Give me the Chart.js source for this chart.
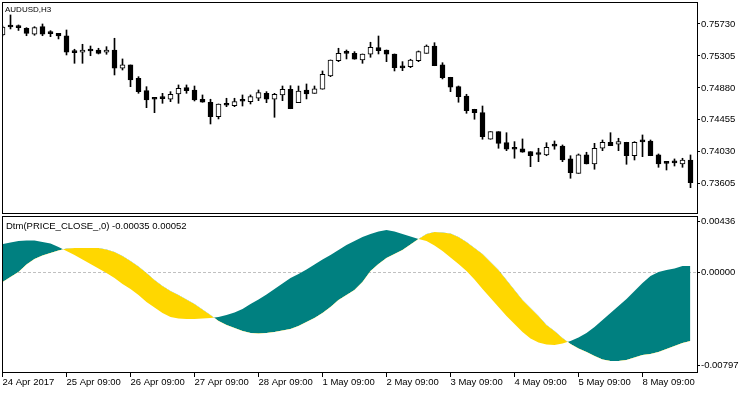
<!DOCTYPE html>
<html>
<head>
<meta charset="utf-8">
<title>AUDUSD,H3 - Dtm</title>
<script src="https://cdn.jsdelivr.net/npm/chart.js@4.4.1/dist/chart.umd.min.js"></script>
<style>
    html, body { margin: 0; padding: 0; background: #fff; }
    #wrap { position: relative; width: 750px; height: 394px; overflow: hidden; font-family: "Liberation Sans", Arial, sans-serif; }
    #wrap canvas { position: absolute; left: 0; }
    .frame { position: absolute; border: 1px solid #000; pointer-events: none; }
    .caption { position: absolute; color: #000; white-space: nowrap; line-height: 10px; }
</style>
</head>
<body>
<div id="wrap">
    <canvas id="price-chart" width="750" height="215" style="top:0"></canvas>
    <canvas id="dtm-chart" width="750" height="179" style="top:215px"></canvas>
    <div class="frame" style="left:2px;top:2px;width:694px;height:210px"></div>
    <div class="frame" style="left:2px;top:216px;width:694px;height:155px"></div>
    <div class="caption" style="left:5px;top:5px;font-size:8px">AUDUSD,H3</div>
    <div class="caption" style="left:6px;top:220px;font-size:9.5px;line-height:11px">Dtm(PRICE_CLOSE_,0) -0.00035 0.00052</div>
</div>
<script>
// H3 bars, 24 Apr 2017 09:00 .. 9 May 2017 03:00
const xTickBars = [0, 8, 16, 24, 32, 40, 48, 56, 64, 72, 80];
const xTickLabels = ['24 Apr 2017', '25 Apr 09:00', '26 Apr 09:00', '27 Apr 09:00', '28 Apr 09:00',
    '1 May 09:00', '2 May 09:00', '3 May 09:00', '4 May 09:00', '5 May 09:00', '8 May 09:00'];

const priceTicks = [0.73605, 0.74030, 0.74455, 0.74880, 0.75305, 0.75730];
const dtmTicks = [-0.00797, 0, 0.00436];

const openPrices = [
    0.75584, 0.75697, 0.75690, 0.75673, 0.75593, 0.75694, 0.75610, 0.75606, 0.75574, 0.75358,
    0.75354, 0.75378, 0.75384, 0.75354, 0.75384, 0.75141, 0.75185, 0.75008, 0.74843, 0.74735,
    0.74746, 0.74729, 0.74799, 0.74883, 0.74852, 0.74729, 0.74689, 0.74497, 0.74655, 0.74643,
    0.74709, 0.74697, 0.74742, 0.74808, 0.74729, 0.74786, 0.74862, 0.74683, 0.74852, 0.74808,
    0.74862, 0.75038, 0.75242, 0.75343, 0.75340, 0.75251, 0.75327, 0.75415, 0.75384, 0.75331,
    0.75151, 0.75162, 0.75242, 0.75340, 0.75437, 0.75185, 0.75021, 0.74896, 0.74772, 0.74596,
    0.74550, 0.74197, 0.74298, 0.74151, 0.74070, 0.74068, 0.74032, 0.74000, 0.73988, 0.74110,
    0.74107, 0.73935, 0.73744, 0.73988, 0.73868, 0.74077, 0.74157, 0.74130, 0.74157, 0.73978,
    0.74167, 0.74174, 0.73988, 0.73880, 0.73888, 0.73868, 0.73921
];
const highPrices = [
    0.75703, 0.75850, 0.75717, 0.75681, 0.75694, 0.75730, 0.75641, 0.75606, 0.75650, 0.75394,
    0.75460, 0.75437, 0.75407, 0.75428, 0.75540, 0.75265, 0.75185, 0.75029, 0.74896, 0.74742,
    0.74808, 0.74830, 0.74919, 0.74919, 0.74905, 0.74786, 0.74729, 0.74666, 0.74742, 0.74742,
    0.74786, 0.74786, 0.74852, 0.74830, 0.74808, 0.74905, 0.74909, 0.74905, 0.74932, 0.74905,
    0.75105, 0.75251, 0.75407, 0.75384, 0.75362, 0.75331, 0.75487, 0.75570, 0.75384, 0.75331,
    0.75229, 0.75261, 0.75371, 0.75451, 0.75481, 0.75215, 0.75021, 0.74905, 0.74795, 0.74596,
    0.74639, 0.74298, 0.74298, 0.74284, 0.74165, 0.74201, 0.74032, 0.74077, 0.74151, 0.74174,
    0.74121, 0.73978, 0.74001, 0.74024, 0.74143, 0.74187, 0.74284, 0.74210, 0.74157, 0.74165,
    0.74254, 0.74187, 0.74001, 0.73899, 0.73935, 0.73944, 0.73988
];
const lowPrices = [
    0.75570, 0.75664, 0.75644, 0.75574, 0.75580, 0.75574, 0.75561, 0.75531, 0.75318, 0.75207,
    0.75207, 0.75308, 0.75331, 0.75327, 0.75052, 0.75118, 0.74896, 0.74808, 0.74617, 0.74550,
    0.74675, 0.74697, 0.74675, 0.74808, 0.74706, 0.74689, 0.74400, 0.74467, 0.74630, 0.74630,
    0.74639, 0.74666, 0.74710, 0.74683, 0.74489, 0.74710, 0.74603, 0.74683, 0.74733, 0.74808,
    0.74862, 0.75029, 0.75229, 0.75265, 0.75261, 0.75207, 0.75287, 0.75331, 0.75229, 0.75105,
    0.75109, 0.75149, 0.75229, 0.75340, 0.75175, 0.74999, 0.74830, 0.74689, 0.74542, 0.74463,
    0.74197, 0.74197, 0.74077, 0.74045, 0.73944, 0.74024, 0.73832, 0.73899, 0.73978, 0.74064,
    0.73899, 0.73678, 0.73744, 0.73868, 0.73798, 0.74045, 0.74111, 0.74045, 0.73864, 0.73921,
    0.73965, 0.73978, 0.73824, 0.73788, 0.73841, 0.73824, 0.73553
];
const closePrices = [
    0.75690, 0.75690, 0.75682, 0.75606, 0.75681, 0.75593, 0.75602, 0.75570, 0.75354, 0.75350,
    0.75384, 0.75371, 0.75340, 0.75384, 0.75141, 0.75185, 0.74985, 0.74830, 0.74719, 0.74729,
    0.74738, 0.74795, 0.74875, 0.74843, 0.74719, 0.74689, 0.74497, 0.74666, 0.74649, 0.74697,
    0.74702, 0.74763, 0.74816, 0.74729, 0.74795, 0.74862, 0.74603, 0.74839, 0.74799, 0.74866,
    0.75061, 0.75251, 0.75340, 0.75338, 0.75261, 0.75331, 0.75420, 0.75375, 0.75327, 0.75149,
    0.75146, 0.75251, 0.75362, 0.75437, 0.75175, 0.75016, 0.74888, 0.74763, 0.74577, 0.74550,
    0.74231, 0.74298, 0.74143, 0.74064, 0.74064, 0.74024, 0.73978, 0.73994, 0.74090, 0.74105,
    0.73921, 0.73752, 0.73988, 0.73868, 0.74077, 0.74157, 0.74111, 0.74165, 0.73978, 0.74157,
    0.74162, 0.73978, 0.73868, 0.73875, 0.73883, 0.73921, 0.73619
];

// Dtm indicator: two buffers, filled between them
const dtmFast = [
    0.00241, 0.00254, 0.00267, 0.00271, 0.00271, 0.00258, 0.00246, 0.00216, 0.00182, 0.00147,
    0.00109, 0.00071, 0.00032, -0.00006, -0.00049, -0.00100, -0.00142, -0.00194, -0.00253, -0.00300,
    -0.00347, -0.00381, -0.00394, -0.00398, -0.00398, -0.00394, -0.00390, -0.00381, -0.00364, -0.00343,
    -0.00313, -0.00270, -0.00232, -0.00189, -0.00142, -0.00095, -0.00049, -0.00014, 0.00024, 0.00067,
    0.00109, 0.00147, 0.00190, 0.00233, 0.00267, 0.00301, 0.00327, 0.00348, 0.00361, 0.00348,
    0.00327, 0.00305, 0.00284, 0.00267, 0.00228, 0.00182, 0.00126, 0.00071, 0.00011, -0.00061,
    -0.00142, -0.00219, -0.00296, -0.00373, -0.00441, -0.00509, -0.00564, -0.00599, -0.00616, -0.00620,
    -0.00607, -0.00586, -0.00556, -0.00518, -0.00466, -0.00407, -0.00347, -0.00287, -0.00228, -0.00159,
    -0.00091, -0.00032, 0.00003, 0.00020, 0.00032, 0.00054, 0.00054
];
const dtmSlow = [
    -0.00083, -0.00040, 0.00003, 0.00067, 0.00113, 0.00143, 0.00165, 0.00186, 0.00203, 0.00207,
    0.00207, 0.00207, 0.00207, 0.00194, 0.00173, 0.00139, 0.00096, 0.00049, -0.00006, -0.00066,
    -0.00117, -0.00159, -0.00194, -0.00232, -0.00270, -0.00317, -0.00364, -0.00415, -0.00449, -0.00475,
    -0.00500, -0.00518, -0.00522, -0.00518, -0.00509, -0.00496, -0.00483, -0.00458, -0.00424, -0.00390,
    -0.00347, -0.00296, -0.00236, -0.00194, -0.00151, -0.00083, 0.00011, 0.00071, 0.00122, 0.00156,
    0.00190, 0.00237, 0.00284, 0.00327, 0.00344, 0.00339, 0.00331, 0.00301, 0.00258, 0.00207,
    0.00156, 0.00088, 0.00020, -0.00066, -0.00151, -0.00236, -0.00304, -0.00373, -0.00449, -0.00500,
    -0.00560, -0.00611, -0.00650, -0.00680, -0.00714, -0.00743, -0.00756, -0.00756, -0.00748, -0.00726,
    -0.00705, -0.00697, -0.00680, -0.00654, -0.00628, -0.00603, -0.00586
];

const FONT = { family: '"Liberation Sans", Arial, sans-serif', size: 9.5 };
const X_MIN = 0.0625;          // 8 px per bar, bar 0 sits on the left frame
const X_MAX = X_MIN + 694 / 8;
const AXIS_WIDTH = 53;

Chart.defaults.font = FONT;
Chart.defaults.color = '#000';

function fixedWidth(scale) {
    scale.width = AXIS_WIDTH;
    scale.paddingTop = 0;
    scale.paddingBottom = 0;
}

function setTicks(values) {
    return scale => { scale.ticks = values.map(v => ({ value: v })); };
}

const barIndex = openPrices.map((_, i) => i);

new Chart(document.getElementById('price-chart'), {
    type: 'bar',
    data: {
        datasets: [
            {
                label: 'wick',
                data: barIndex.map(i => ({ x: i, y: [lowPrices[i], highPrices[i]] })),
                backgroundColor: '#000',
                borderWidth: 0,
                barThickness: 1,
                grouped: false,
                order: 2
            },
            {
                label: 'body',
                data: barIndex.map(i => ({ x: i, y: [openPrices[i], closePrices[i]] })),
                backgroundColor: ctx => closePrices[ctx.dataIndex] >= openPrices[ctx.dataIndex] ? '#fff' : '#000',
                borderColor: '#000',
                borderWidth: 1,
                borderSkipped: false,
                barThickness: 5,
                minBarLength: 2,
                grouped: false,
                order: 1
            }
        ]
    },
    options: {
        responsive: false,
        animation: false,
        events: [],
        layout: { padding: { left: 3, top: 3, right: 0, bottom: 2 } },
        plugins: { legend: { display: false }, tooltip: { enabled: false } },
        scales: {
            x: {
                type: 'linear',
                min: X_MIN,
                max: X_MAX,
                offset: false,
                grid: { offset: false },
                display: false
            },
            y: {
                position: 'right',
                min: 0.73216,
                max: 0.76009,
                afterBuildTicks: setTicks(priceTicks),
                afterFit: fixedWidth,
                border: { display: false },
                grid: { drawOnChartArea: false, color: '#000', tickLength: 3 },
                ticks: { padding: 1, callback: v => v.toFixed(5) }
            }
        }
    }
});

new Chart(document.getElementById('dtm-chart'), {
    type: 'line',
    data: {
        datasets: [
            {
                label: 'Dtm',
                data: barIndex.map(i => ({ x: i, y: dtmFast[i] })),
                borderWidth: 0,
                borderColor: 'rgba(0,0,0,0)',
                pointRadius: 0,
                tension: 0,
                fill: { target: 1, above: '#008080', below: '#FFD700' }
            },
            {
                label: 'Signal',
                data: barIndex.map(i => ({ x: i, y: dtmSlow[i] })),
                borderWidth: 0,
                borderColor: 'rgba(0,0,0,0)',
                pointRadius: 0,
                tension: 0,
                fill: false
            }
        ]
    },
    options: {
        responsive: false,
        animation: false,
        events: [],
        layout: { padding: { left: 3, top: 2, right: 0, bottom: 0 } },
        plugins: { legend: { display: false }, tooltip: { enabled: false } },
        scales: {
            x: {
                type: 'linear',
                min: X_MIN,
                max: X_MAX,
                afterBuildTicks: setTicks(xTickBars),
                afterFit: scale => {
                    scale.height = 22;
                    scale.paddingLeft = 0;
                    scale.paddingRight = 0;
                },
                border: { display: false },
                grid: { drawOnChartArea: false, color: '#000', tickLength: 5 },
                ticks: {
                    align: 'start',
                    padding: 0,
                    maxRotation: 0,
                    autoSkip: false,
                    callback: (v, i) => xTickLabels[i]
                }
            },
            y: {
                position: 'right',
                min: -0.0085,
                max: 0.00471,
                afterBuildTicks: setTicks(dtmTicks),
                afterFit: fixedWidth,
                border: { display: false, dash: [3, 2] },
                grid: {
                    color: ctx => (ctx.tick && ctx.tick.value === 0) ? '#c0c0c0' : 'rgba(0,0,0,0)',
                    tickColor: '#000',
                    tickLength: 3
                },
                ticks: { padding: 1, callback: v => v.toFixed(5) }
            }
        }
    }
});
</script>
</body>
</html>
